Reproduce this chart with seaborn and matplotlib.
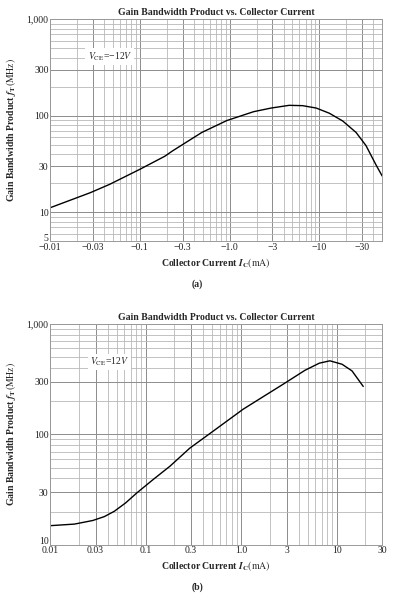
import numpy as np
import pandas as pd
import matplotlib
matplotlib.use("Agg")
import matplotlib.pyplot as plt
import matplotlib.transforms as mtransforms
from matplotlib.ticker import FixedLocator, FixedFormatter, LogLocator, NullFormatter
import seaborn as sns


# dados (a): PNP, VCE = -12 V
IC_A = [-0.01, -0.028, -0.046, -0.1, -0.19, -0.23, -0.49, -0.93, -1.85,
        -2.9, -4.6, -6.5, -9.2, -12.9, -18.2, -25.6, -33.0, -42.6, -50.0]
FT_A = [11.1, 15.9, 19.4, 27.8, 38.0, 43.0, 67.0, 89.0, 110.0,
        120.0, 128.0, 127.0, 120.0, 106.0, 88.0, 67.0, 49.0, 31.0, 23.7]

# dados (b): NPN, VCE = 12 V
IC_B = [0.01, 0.018, 0.028, 0.037, 0.047, 0.062, 0.081, 0.12, 0.18, 0.29, 0.51,
        1.05, 1.87, 2.76, 4.67, 6.6, 8.5, 11.4, 14.5, 19.0]
FT_B = [14.9, 15.4, 16.6, 18.0, 20.1, 24.0, 29.5, 39.0, 51.5, 75.0, 107.0,
        169.0, 231.0, 285.0, 381.0, 442.0, 464.0, 432.0, 376.0, 272.0]

XTICKS_A = [0.01, 0.03, 0.1, 0.3, 1.0, 3, 10, 30]
XLABELS_A = ["\u22120.01", "\u22120.03", "\u22120.1", "\u22120.3", "\u22121.0", "\u22123", "\u221210", "\u221230"]
XTICKS_B = [0.01, 0.03, 0.1, 0.3, 1.0, 3, 10, 30]
XLABELS_B = ["0.01", "0.03", "0.1", "0.3", "1.0", "3", "10", "30"]

YTICKS_A = [5, 10, 30, 100, 300, 1000]
YTICKS_B = [10, 30, 100, 300, 1000]

TITULO = "Gain Bandwidth Product vs. Collector Current"
ROTULO_Y = "Gain Bandwidth Product $\\mathbfit{f}_\\mathbf{T}$$\\mathrm{(MHz)}$"
ROTULO_X = "Collector Current $\\mathbfit{I}_\\mathbf{C}$$\\mathrm{(mA)}$"


def formatar_eixo(ax, xlim, ylim, xticks, xlabels, yticks):
    ax.set_xscale("log")
    ax.set_yscale("log")
    ax.set_xlim(*xlim)
    ax.set_ylim(*ylim)

    ax.xaxis.set_major_locator(FixedLocator(xticks))
    ax.xaxis.set_major_formatter(FixedFormatter(xlabels))
    ax.xaxis.set_minor_locator(LogLocator(base=10, subs=np.arange(1, 10)))
    ax.xaxis.set_minor_formatter(NullFormatter())

    ax.yaxis.set_major_locator(FixedLocator(yticks))
    ax.yaxis.set_major_formatter(FixedFormatter([f"{v:,}" for v in yticks]))
    ax.yaxis.set_minor_locator(LogLocator(base=10, subs=np.arange(1, 10)))
    ax.yaxis.set_minor_formatter(NullFormatter())

    ax.grid(which="major", color="#8c8c8c", linewidth=0.7)
    ax.grid(which="minor", color="#b8b8b8", linewidth=0.6)
    ax.set_axisbelow(True)
    ax.tick_params(which="both", length=0, labelsize=7, pad=1, colors="#222222")
    for lado in ax.spines.values():
        lado.set_color("#9a9a9a")
        lado.set_linewidth(0.7)

    # o primeiro rotulo do eixo y sobe um pouco, como no original
    fig = ax.figure
    deslocamento = mtransforms.ScaledTranslation(0, 3 / 72, fig.dpi_scale_trans)
    rotulo_baixo = ax.yaxis.get_major_ticks()[0].label1
    rotulo_baixo.set_transform(rotulo_baixo.get_transform() + deslocamento)

    ax.set_title(TITULO, fontsize=7, fontweight="bold", pad=3)
    ax.set_xlabel(ROTULO_X, fontsize=7, fontweight="bold", labelpad=3)
    ax.set_ylabel(ROTULO_Y, fontsize=7, fontweight="bold", labelpad=6)


def main():
    sns.set_theme(style="white")
    plt.rcParams["font.family"] = ["Liberation Serif", "DejaVu Serif"]
    plt.rcParams["mathtext.fontset"] = "stix"

    dados_a = pd.DataFrame({"ic": np.abs(IC_A), "ft": FT_A})
    dados_b = pd.DataFrame({"ic": IC_B, "ft": FT_B})

    fig = plt.figure(figsize=(3.94, 6.0), dpi=100)
    ax_a = fig.add_axes([0.127, 0.598, 0.843, 0.370])
    ax_b = fig.add_axes([0.127, 0.092, 0.843, 0.368])

    sns.lineplot(data=dados_a, x="ic", y="ft", ax=ax_a, color="black", linewidth=1.0)
    formatar_eixo(ax_a, (0.01, 50), (5, 1000), XTICKS_A, XLABELS_A, YTICKS_A)

    sns.lineplot(data=dados_b, x="ic", y="ft", ax=ax_b, color="black", linewidth=1.0)
    formatar_eixo(ax_b, (0.01, 30), (10, 1000), XTICKS_B, XLABELS_B, YTICKS_B)

    caixa = dict(facecolor="white", edgecolor="none", pad=1.5)
    ax_a.text(0.18, 0.833, "$V_\\mathrm{CE}$=\u221212$V$", transform=ax_a.transAxes,
              fontsize=7, ha="center", va="center", bbox=caixa)
    ax_b.text(0.178, 0.828, "$V_\\mathrm{CE}$=12$V$", transform=ax_b.transAxes,
              fontsize=7, ha="center", va="center", bbox=caixa)

    fig.text(0.5, 1 - 284 / 600, "(a)", fontsize=7, fontweight="bold", ha="center", va="center")
    fig.text(0.5, 1 - 587 / 600, "(b)", fontsize=7, fontweight="bold", ha="center", va="center")

    fig.savefig("out.png", dpi=100)


if __name__ == "__main__":
    main()
